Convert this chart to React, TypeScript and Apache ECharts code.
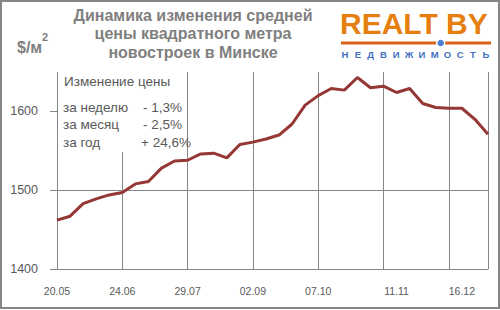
import React, { useEffect, useRef } from "react";
import * as echarts from "echarts";

const categories = [
  "20.05", "27.05", "03.06", "10.06", "17.06", "24.06", "01.07", "08.07", "15.07", "22.07",
  "29.07", "05.08", "12.08", "19.08", "26.08", "02.09", "09.09", "16.09", "23.09", "30.09",
  "07.10", "14.10", "21.10", "28.10", "31.10", "04.11", "11.11", "18.11", "25.11", "02.12",
  "09.12", "16.12", "23.12", "30.12",
];
const prices = [
  1462, 1467, 1483, 1489, 1494, 1497, 1508, 1511, 1528, 1537,
  1538, 1546, 1547, 1541, 1558, 1561, 1565, 1570, 1584, 1608,
  1620, 1629, 1627, 1643, 1630, 1632, 1624, 1629, 1610, 1605,
  1604, 1604, 1590, 1571,
];
const tickLabels = ["20.05", "24.06", "29.07", "02.09", "07.10", "11.11", "16.12"];
const yTicks = [1400, 1500, 1600];
const titleLines = ["Динамика изменения средней", "цены квадратного метра", "новостроек в Минске"];
const changeHeader = "Изменение цены";
const changeRows = [
  ["за неделю", "- 1,3%"],
  ["за месяц", "- 2,5%"],
  ["за год", "+ 24,6%"],
];
const logoLetters = "НЕДВИЖИМОСТЬ".split("");

const FONT = "'Liberation Sans', Arial, sans-serif";
const GRAY = "#868686";
const TXT = "#595959";

export default function App() {
  const ref = useRef<HTMLDivElement>(null);
  useEffect(() => {
    document.body.style.margin = "0";
    const chart = echarts.init(ref.current!, null, { renderer: "svg" });
    const graphics: any[] = [
      { type: "rect", z: 100, shape: { x: 1, y: 1, width: 498, height: 307 }, style: { fill: "none", stroke: GRAY, lineWidth: 2 } },
      {
        type: "text", z: 100, x: 193, y: 6,
        style: { text: titleLines.join("\n"), fill: "#7f7f7f", font: `bold 16px ${FONT}`, textAlign: "center", textVerticalAlign: "top", lineHeight: 18.5 },
      },
      { type: "text", z: 100, x: 17, y: 47, style: { text: "$/м", fill: "#7f7f7f", font: `bold 16px ${FONT}`, textVerticalAlign: "middle" } },
      { type: "text", z: 100, x: 42, y: 37, style: { text: "2", fill: "#7f7f7f", font: `bold 11px ${FONT}`, textVerticalAlign: "middle" } },
      { type: "text", z: 100, x: 340, y: 23.5, style: { text: "REALT BY", fill: "#e57f10", font: `bold 30px ${FONT}`, textVerticalAlign: "middle" } },
      { type: "line", z: 100, shape: { x1: 341, y1: 43, x2: 491, y2: 43 }, style: { stroke: "#d9621c", lineWidth: 3 } },
      { type: "circle", z: 101, shape: { cx: 440.7, cy: 43, r: 4 }, style: { fill: "#4a7fd0", stroke: "#ffffff", lineWidth: 1.5 } },
      ...logoLetters.map((ch, i) => ({
        type: "text", z: 100, x: 345 + i * 12.8, y: 54,
        style: { text: ch, fill: "#3f6fc0", font: `bold 9.5px ${FONT}`, textAlign: "center", textVerticalAlign: "middle" },
      })),
      { type: "rect", z: 90, shape: { x: 58, y: 71, width: 129, height: 81 }, style: { fill: "#ffffff" } },
      { type: "text", z: 100, x: 64, y: 81, style: { text: changeHeader, fill: TXT, font: `13.5px ${FONT}`, textVerticalAlign: "middle" } },
      ...changeRows.flatMap((r, i) => [
        { type: "text", z: 100, x: 63, y: 107 + i * 17.5, style: { text: r[0], fill: TXT, font: `13.5px ${FONT}`, textVerticalAlign: "middle" } },
        { type: "text", z: 100, x: r[1].startsWith("+") ? 141 : 143, y: 107 + i * 17.5, style: { text: r[1], fill: TXT, font: `13.5px ${FONT}`, textVerticalAlign: "middle" } },
      ]),
    ];
    chart.setOption({
      animation: false,
      backgroundColor: "#ffffff",
      grid: { left: 57, right: 12, top: 72, bottom: 41, containLabel: false, outerBoundsMode: "none" },
      xAxis: {
        type: "category",
        boundaryGap: false,
        data: categories,
        axisLine: { show: true, lineStyle: { color: GRAY, width: 1 } },
        axisTick: { show: false },
        axisLabel: {
          interval: 0,
          formatter: (v: string) => (tickLabels.includes(v) ? v : ""),
          color: TXT, fontSize: 10.5, fontFamily: FONT, margin: 16,
        },
        splitLine: { show: true, interval: 4, lineStyle: { color: GRAY, width: 1 } },
      },
      yAxis: {
        type: "value",
        min: 1400,
        max: 1650,
        interval: 50,
        axisLine: { show: false },
        axisTick: { show: true, length: 7, lineStyle: { color: GRAY }, customValues: yTicks },
        axisLabel: { customValues: yTicks, formatter: (v: number) => String(v), color: TXT, fontSize: 12.5, fontFamily: FONT, margin: 19 },
        splitLine: { show: true, showMaxLine: false, lineStyle: { color: GRAY, width: 1 } },
      },
      series: [
        {
          type: "line",
          data: prices,
          symbol: "none",
          z: 200,
          lineStyle: { color: "#953735", width: 3 },
        },
      ],
      graphic: graphics,
    });
    return () => chart.dispose();
  }, []);
  return <div ref={ref} style={{ width: 500, height: 310 }} />;
}
